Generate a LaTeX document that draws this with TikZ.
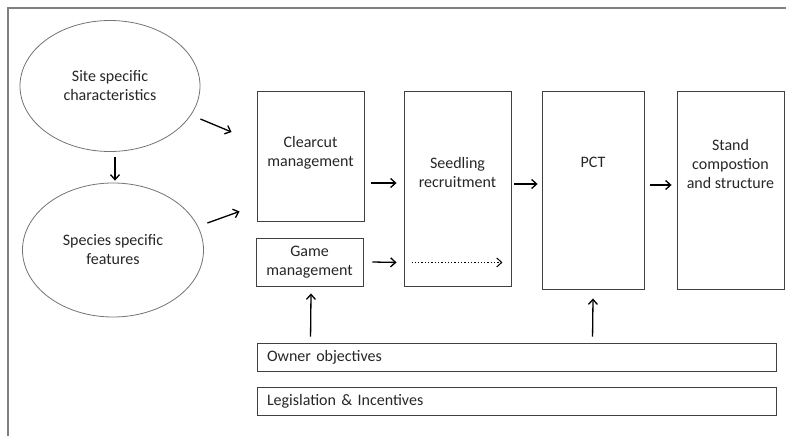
\documentclass[tikz,border=0pt]{standalone}
\usepackage{fontspec}
\setmainfont{Carlito}
\usetikzlibrary{arrows.meta,shapes.geometric}

\begin{document}
\begin{tikzpicture}[x=1pt, y=-1pt,
  every node/.style={font=\fontsize{16}{19}\selectfont, text=black!85},
  txt/.style={align=center, inner sep=0pt},
  box/.style={draw=black!75, line width=0.9pt, inner sep=0pt},
  oval/.style={draw=black!55, line width=0.8pt, ellipse, align=center, inner sep=0pt},
  bar/.style={box, align=left, inner xsep=10pt, text width=499pt, minimum height=28pt},
  arr/.style={-{Straight Barb[length=5pt,width=9pt]}, line width=1.3pt}]
  \useasboundingbox (0,0) rectangle (786,436);
  \draw[draw=black!50, line width=1.2pt] (8,436) -- (8,8) -- (786,8);

  \node[oval, minimum width=180pt, minimum height=131pt] (site) at (110,86) {Site specific\\characteristics};
  \node[oval, minimum width=181pt, minimum height=134pt] (species) at (113,250) {Species specific\\features};

  \node[box, minimum width=107pt, minimum height=130pt, label={[txt, yshift=3.5pt]center:Clearcut\\management}] (clearcut) at (310.5,156) {};
  \node[box, align=center, minimum width=107pt, minimum height=48pt] (game) at (309.5,262) {Game\\management};
  \node[box, minimum width=107pt, minimum height=195pt, label={[txt, yshift=16pt]center:Seedling\\recruitment}] (seedling) at (457.5,188.5) {};
  \node[box, minimum width=102pt, minimum height=198pt, label={[txt, yshift=28pt]center:PCT}] (pct) at (593,190) {};
  \node[box, minimum width=107pt, minimum height=198pt, label={[txt, yshift=26pt]center:Stand\\compostion\\and structure}] (stand) at (730.5,190) {};

  \node[bar] (owner) at (516.5,357) {Owner objectives};
  \node[bar] (legis) at (516.5,401) {Legislation \& Incentives};

  \draw[arr] ([xshift=5pt,yshift=-5pt]site.south) -- ([xshift=2pt,yshift=2pt]species.north);
  \draw[arr] ([yshift=-33pt]site.east) -- ([xshift=-25pt,yshift=24pt]clearcut.west);
  \draw[arr] ([xshift=3.5pt,yshift=27pt]species.east) -- ([xshift=-17pt,yshift=10pt]clearcut.south west);
  \draw[arr] ([xshift=7pt,yshift=-27pt]clearcut.east) -- ([xshift=-7pt,yshift=5.5pt]seedling.west);
  \draw[arr] ([xshift=9pt]game.east) -- ([xshift=-7pt,yshift=24pt]seedling.south west);
  \draw[arr, dotted, line width=1pt] ([xshift=8pt,yshift=24pt]seedling.south west) -- ([xshift=-9pt,yshift=24pt]seedling.south east);
  \draw[arr] ([xshift=3pt,yshift=4.5pt]seedling.east) -- ([xshift=-4pt,yshift=6pt]pct.west);
  \draw[arr] ([xshift=6pt,yshift=5pt]pct.east) -- ([xshift=-5pt,yshift=5pt]stand.west);
  \draw[arr] ([xshift=54pt,yshift=6pt]owner.north west) -- ([xshift=1.5pt,yshift=-7pt]game.south);
  \draw[arr] ([xshift=336pt,yshift=6pt]owner.north west) -- ([yshift=-9pt]pct.south);
\end{tikzpicture}
\end{document}
